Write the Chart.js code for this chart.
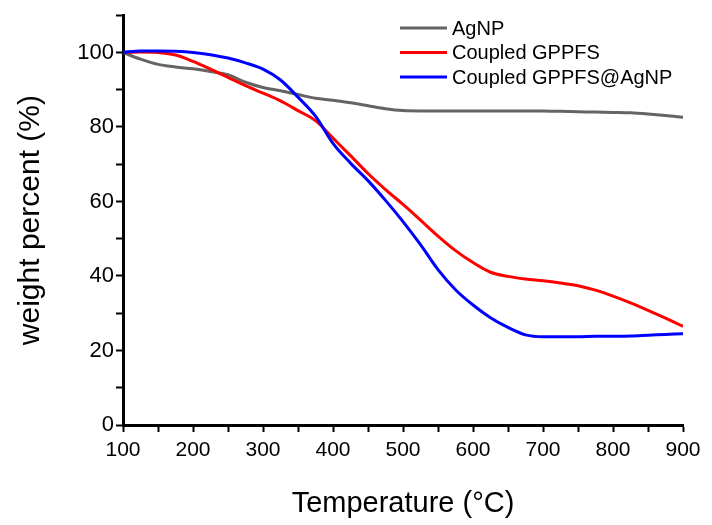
<!DOCTYPE html>
<html>
<head>
<meta charset="utf-8">
<script src="https://cdn.jsdelivr.net/npm/chart.js@4/dist/chart.umd.min.js"></script>
<style>
  html, body { margin: 0; padding: 0; background: #fff; }
  #wrap { width: 712px; height: 525px; position: relative; }
</style>
</head>
<body>
<div id="wrap"><canvas id="c"></canvas></div>
<script>
// Temperature (°C)
const temperatures = [100,125,150,175,200,225,250,275,300,325,350,375,400,425,450,475,500,525,550,575,600,625,650,675,700,725,750,775,800,825,850,875,900];
// weight percent (%)
const agnp = [100,98.2,96.8,96.1,95.6,94.9,94.0,92.0,90.6,89.7,88.7,87.7,87.2,86.5,85.7,84.9,84.4,84.3,84.3,84.3,84.3,84.3,84.3,84.3,84.3,84.2,84.1,84.0,83.9,83.8,83.5,83.1,82.6];
const coupledGPPFS = [100,100.1,100.0,99.3,97.6,95.5,93.3,91.1,89.1,87.0,84.4,81.7,77.0,72.3,67.5,63.2,59.2,55.0,50.7,46.8,43.6,41.0,39.9,39.2,38.7,38.1,37.4,36.2,34.6,32.8,30.8,28.7,26.5];
const coupledGPPFSAgNP = [100,100.4,100.4,100.3,100.0,99.4,98.5,97.2,95.5,92.6,88.0,82.9,75.6,70.3,65.6,60.3,54.6,48.4,41.7,36.3,32.2,28.8,26.2,24.2,23.7,23.7,23.7,23.8,23.8,23.9,24.1,24.3,24.5];
const seriesLabels = ['AgNP', 'Coupled GPPFS', 'Coupled GPPFS@AgNP'];
const seriesColors = ['#646464', '#ff0000', '#0000ff'];
const xTitle = 'Temperature (°C)';
const yTitle = 'weight percent (%)';

const FONT = '"Liberation Sans", Arial, sans-serif';

function pts(vals) { return temperatures.map((t, i) => ({x: t, y: vals[i]})); }

const legendPlugin = {
  id: 'customLegend',
  afterDraw(chart) {
    const ctx = chart.ctx;
    ctx.save();
    ctx.font = '20px ' + FONT;
    ctx.textBaseline = 'middle';
    ctx.textAlign = 'left';
    chart.data.datasets.forEach((ds, i) => {
      const y = 28 + i * 24.5;
      ctx.strokeStyle = ds.borderColor;
      ctx.lineWidth = 3;
      ctx.beginPath();
      ctx.moveTo(400, y);
      ctx.lineTo(447, y);
      ctx.stroke();
      ctx.fillStyle = '#000';
      ctx.fillText(ds.label, 452, y + 1);
    });
    ctx.restore();
  }
};

const seriesValues = [agnp, coupledGPPFS, coupledGPPFSAgNP];
const drawOrder = [3, 2, 1];

new Chart(document.getElementById('c'), {
  type: 'line',
  data: {
    datasets: seriesValues.map((v, i) => ({
      label: seriesLabels[i],
      data: pts(v),
      borderColor: seriesColors[i],
      backgroundColor: seriesColors[i],
      borderWidth: 3,
      pointRadius: 0,
      cubicInterpolationMode: 'monotone',
      fill: false,
      order: drawOrder[i]
    }))
  },
  options: {
    responsive: true,
    maintainAspectRatio: false,
    animation: false,
    layout: { padding: { left: 0, right: 29, top: 15, bottom: 0 } },
    plugins: { legend: { display: false }, tooltip: { enabled: false } },
    scales: {
      x: {
        type: 'linear',
        min: 100, max: 900,
        afterFit(s) { s.height = 100; },
        border: { color: '#000', width: 3 },
        grid: { drawOnChartArea: false, drawTicks: true, tickLength: 7, tickColor: '#000', tickWidth: 2 },
        ticks: {
          stepSize: 50, autoSkip: false, maxRotation: 0, padding: 6,
          color: '#000', font: { family: FONT, size: 21 },
          callback: v => (v % 100 === 0 ? String(v) : '')
        },
        title: { display: true, text: xTitle, color: '#000', font: { family: FONT, size: 29 }, padding: { top: 0, bottom: 4 } }
      },
      y: {
        type: 'linear',
        min: 0, max: 110,
        afterFit(s) { s.width = 123; },
        border: { color: '#000', width: 3 },
        grid: { drawOnChartArea: false, drawTicks: true, tickLength: 7, tickColor: '#000', tickWidth: 2 },
        ticks: {
          stepSize: 10, autoSkip: false, padding: 2,
          color: '#000', font: { family: FONT, size: 22 },
          callback: v => (v % 20 === 0 ? String(v) : '')
        },
        title: { display: true, text: yTitle, color: '#000', font: { family: FONT, size: 30 }, padding: { top: 13, bottom: 0 } }
      }
    }
  },
  plugins: [legendPlugin]
});
</script>
</body>
</html>
